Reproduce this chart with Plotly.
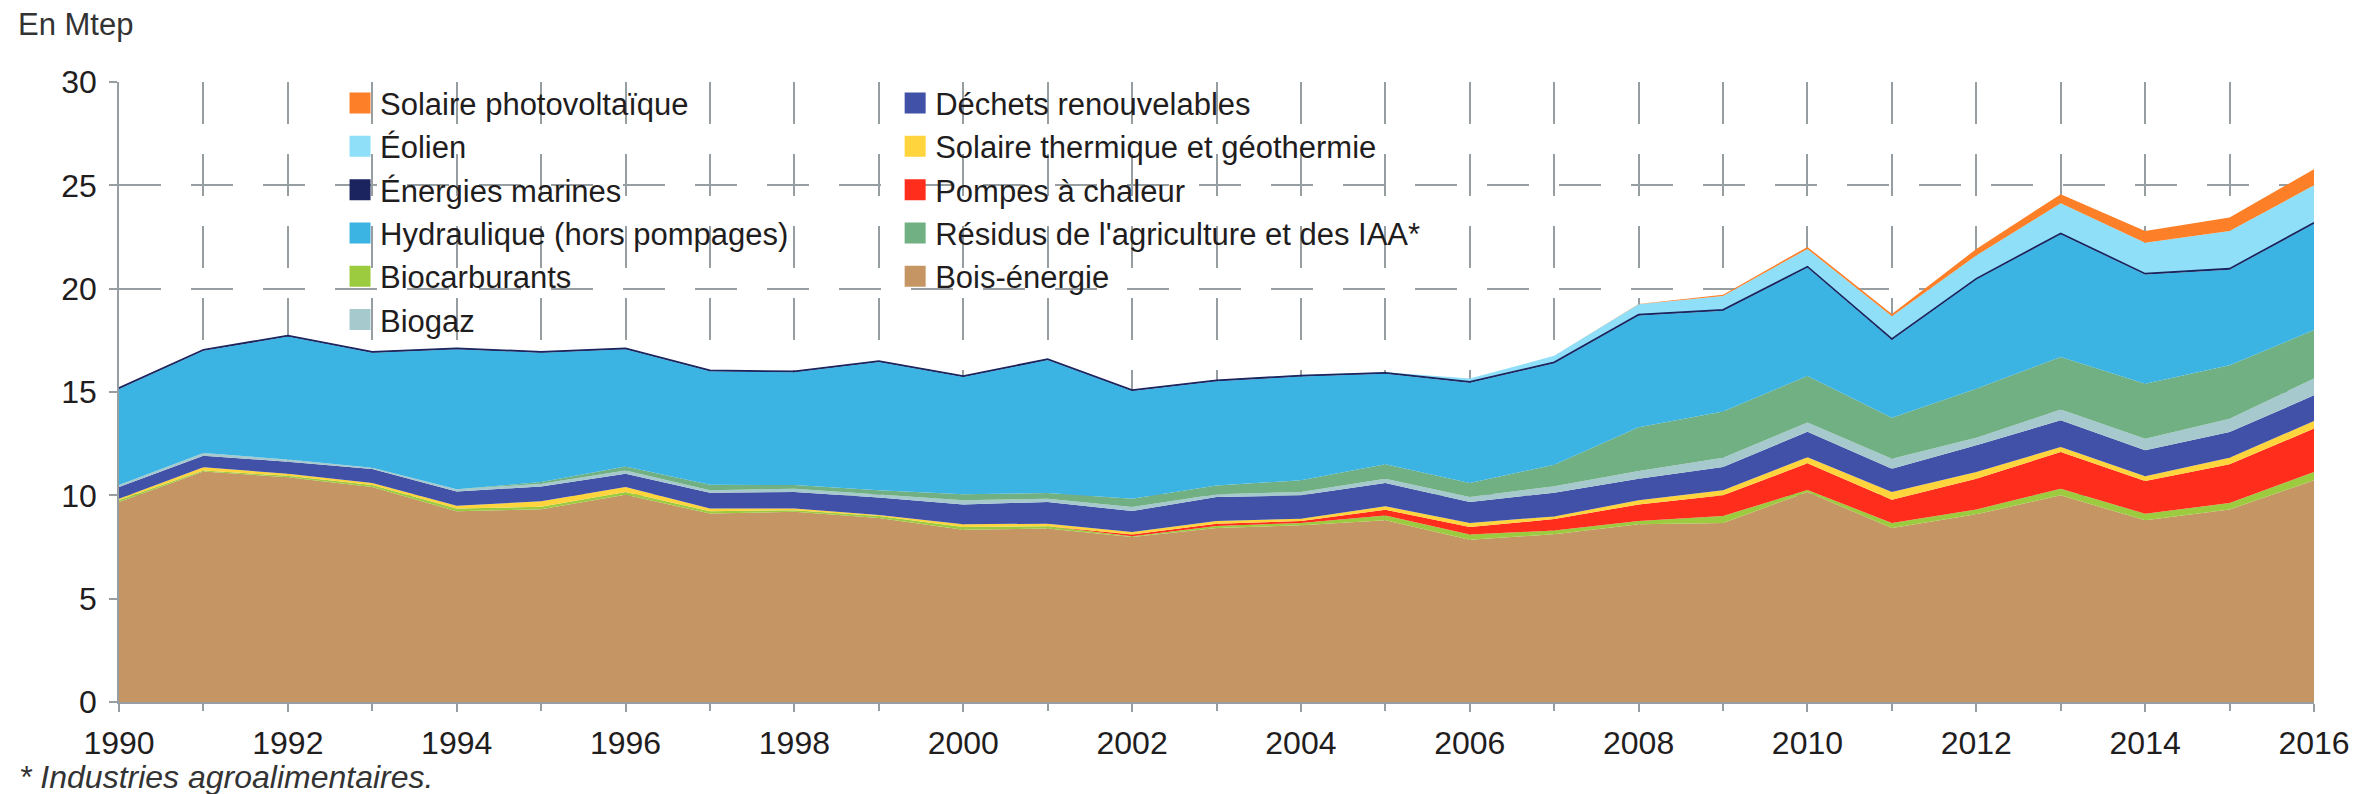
import plotly.graph_objects as go

years = list(range(1990, 2017))

# Mtep, values (one per year, 1990 -> 2016)
bois = [9.68, 11.15, 10.88, 10.40, 9.23, 9.33, 10.03, 9.12, 9.20, 8.90, 8.34, 8.39, 7.98, 8.42,
        8.55, 8.79, 7.85, 8.12, 8.60, 8.66, 10.16, 8.42, 9.08, 10.00, 8.79, 9.31, 10.73]
biocarburants = [0.10, 0.05, 0.07, 0.10, 0.13, 0.12, 0.13, 0.11, 0.08, 0.10, 0.13, 0.11, 0.04, 0.10,
                 0.11, 0.24, 0.25, 0.18, 0.16, 0.34, 0.10, 0.24, 0.23, 0.32, 0.32, 0.32, 0.40]
pompes = [0, 0, 0, 0, 0, 0, 0, 0, 0, 0, 0, 0, 0.09, 0.11,
          0.10, 0.27, 0.37, 0.55, 0.80, 1.00, 1.29, 1.13, 1.49, 1.78, 1.58, 1.87, 2.10]
solaire_th = [0.06, 0.16, 0.09, 0.10, 0.13, 0.26, 0.24, 0.13, 0.08, 0.05, 0.13, 0.13, 0.12, 0.13,
              0.11, 0.17, 0.19, 0.13, 0.20, 0.24, 0.29, 0.37, 0.33, 0.24, 0.23, 0.32, 0.37]
dechets = [0.56, 0.56, 0.59, 0.68, 0.70, 0.72, 0.64, 0.77, 0.80, 0.85, 0.96, 1.05, 1.01, 1.16,
           1.13, 1.13, 1.02, 1.15, 1.04, 1.13, 1.24, 1.13, 1.29, 1.29, 1.26, 1.24, 1.24]
biogaz = [0.10, 0.13, 0.10, 0.05, 0.10, 0.13, 0.16, 0.11, 0.16, 0.15, 0.20, 0.16, 0.20, 0.13,
          0.16, 0.20, 0.24, 0.31, 0.38, 0.45, 0.44, 0.48, 0.37, 0.52, 0.56, 0.65, 0.81]
residus = [0, 0, 0, 0, 0, 0.08, 0.20, 0.27, 0.18, 0.20, 0.29, 0.27, 0.40, 0.43,
           0.57, 0.70, 0.68, 1.04, 2.12, 2.24, 2.26, 1.99, 2.37, 2.54, 2.66, 2.58, 2.35]
hydro = [4.65, 4.95, 5.95, 5.57, 6.78, 6.26, 5.67, 5.49, 5.45, 6.20, 5.67, 6.44, 5.21, 5.04,
         5.02, 4.38, 4.85, 4.91, 5.40, 4.87, 5.24, 3.76, 5.28, 5.94, 5.28, 4.63, 5.14]
marines = [0.05, 0.05, 0.05, 0.05, 0.05, 0.05, 0.05, 0.05, 0.05, 0.05, 0.05, 0.05, 0.05, 0.05,
           0.05, 0.05, 0.05, 0.05, 0.05, 0.05, 0.05, 0.05, 0.05, 0.05, 0.05, 0.05, 0.05]
eolien = [0, 0, 0, 0, 0, 0, 0, 0, 0, 0, 0, 0, 0, 0.01,
          0.02, 0.03, 0.15, 0.31, 0.50, 0.67, 0.85, 1.09, 1.11, 1.45, 1.49, 1.82, 1.81]
pv = [0, 0, 0, 0, 0, 0, 0, 0, 0, 0, 0, 0, 0, 0,
      0, 0, 0, 0, 0.01, 0.06, 0.10, 0.12, 0.32, 0.44, 0.57, 0.65, 0.78]

# stacking order, bottom to top
series = [
    ("Bois-énergie", bois, "#c59664"),
    ("Biocarburants", biocarburants, "#9dcb3f"),
    ("Pompes à chaleur", pompes, "#ff2e1c"),
    ("Solaire thermique et géothermie", solaire_th, "#ffd43d"),
    ("Déchets renouvelables", dechets, "#4151a8"),
    ("Biogaz", biogaz, "#a6c9cd"),
    ("Résidus de l'agriculture et des IAA*", residus, "#70b083"),
    ("Hydraulique (hors pompages)", hydro, "#3bb3e3"),
    ("Énergies marines", marines, "#1b245e"),
    ("Éolien", eolien, "#8fdff8"),
    ("Solaire photovoltaïque", pv, "#fd7f28"),
]
colors = {name: c for name, _, c in series}

legend_col1 = ["Solaire photovoltaïque", "Éolien", "Énergies marines",
               "Hydraulique (hors pompages)", "Biocarburants", "Biogaz"]
legend_col2 = ["Déchets renouvelables", "Solaire thermique et géothermie", "Pompes à chaleur",
               "Résidus de l'agriculture et des IAA*", "Bois-énergie"]

font_family = "Liberation Sans, Arial, sans-serif"
text_color = "#1f1d1d"
grid_color = "#979ea1"

fig = go.Figure()

for name, vals, color in series:
    fig.add_trace(go.Scatter(
        x=years, y=vals, name=name, legendgroup=name,
        stackgroup="one", mode="lines",
        line=dict(width=1.5 if name == "Énergies marines" else 0, color=color),
        fillcolor=color, showlegend=False,
        hovertemplate="%{x}: %{y:.2f} Mtep<extra>" + name + "</extra>",
    ))

# square legend entries, two columns
for legend_id, names in (("legend", legend_col1), ("legend2", legend_col2)):
    for rank, name in enumerate(names):
        fig.add_trace(go.Scatter(
            x=[None], y=[None], name=name, legendgroup=name, legend=legend_id,
            mode="markers", legendrank=rank,
            marker=dict(symbol="square", size=16, color=colors[name],
                        line=dict(width=5, color=colors[name])),
        ))

legend_style = dict(
    orientation="v", yanchor="top", y=1.009, xanchor="left",
    bgcolor="rgba(0,0,0,0)", font=dict(size=31, color=text_color, family=font_family),
    tracegroupgap=0, itemclick="toggleothers",
)

fig.update_layout(
    width=2364, height=794,
    paper_bgcolor="white", plot_bgcolor="white",
    font=dict(family=font_family, color=text_color, size=32),
    margin=dict(l=119, r=50, t=82, b=92),
    legend=dict(legend_style, x=0.1007),
    legend2=dict(legend_style, x=0.3536),
    annotations=[
        dict(text="En Mtep", xref="paper", yref="paper", x=-0.0469, y=1.092,
             xanchor="left", yanchor="middle", showarrow=False,
             font=dict(size=31, color="#333333")),
        dict(text="<i>* Industries agroalimentaires.</i>", xref="paper", yref="paper",
             x=-0.0465, y=-0.1205, xanchor="left", yanchor="middle", showarrow=False,
             font=dict(size=32, color="#333333")),
    ],
)

fig.update_xaxes(
    range=[1990, 2016], dtick=2, tick0=1990,
    showline=True, linecolor=grid_color, linewidth=1.5,
    ticks="outside", ticklen=8, tickcolor=grid_color, tickwidth=1.5,
    tickfont=dict(size=32), ticklabelstandoff=4,
    showgrid=True, gridcolor=grid_color, gridwidth=1.5, griddash="42px,30px",
    minor=dict(dtick=1, ticks="outside", ticklen=7, tickcolor=grid_color,
               showgrid=True, gridcolor=grid_color, gridwidth=1.5, griddash="42px,30px"),
    zeroline=False,
)
fig.update_yaxes(
    range=[0, 30], dtick=5,
    showline=True, linecolor=grid_color, linewidth=1.5,
    ticks="outside", ticklen=8, tickcolor=grid_color, tickwidth=1.5,
    tickfont=dict(size=32), ticklabelstandoff=6,
    showgrid=True, gridcolor=grid_color, gridwidth=1.5, griddash="42px,30px",
    zeroline=False,
)

# drop the default page margin so the 2364x794 figure fills the window exactly
fig.write_html("out.html", config={"displayModeBar": False},
               post_script="document.body.style.margin='0';")
